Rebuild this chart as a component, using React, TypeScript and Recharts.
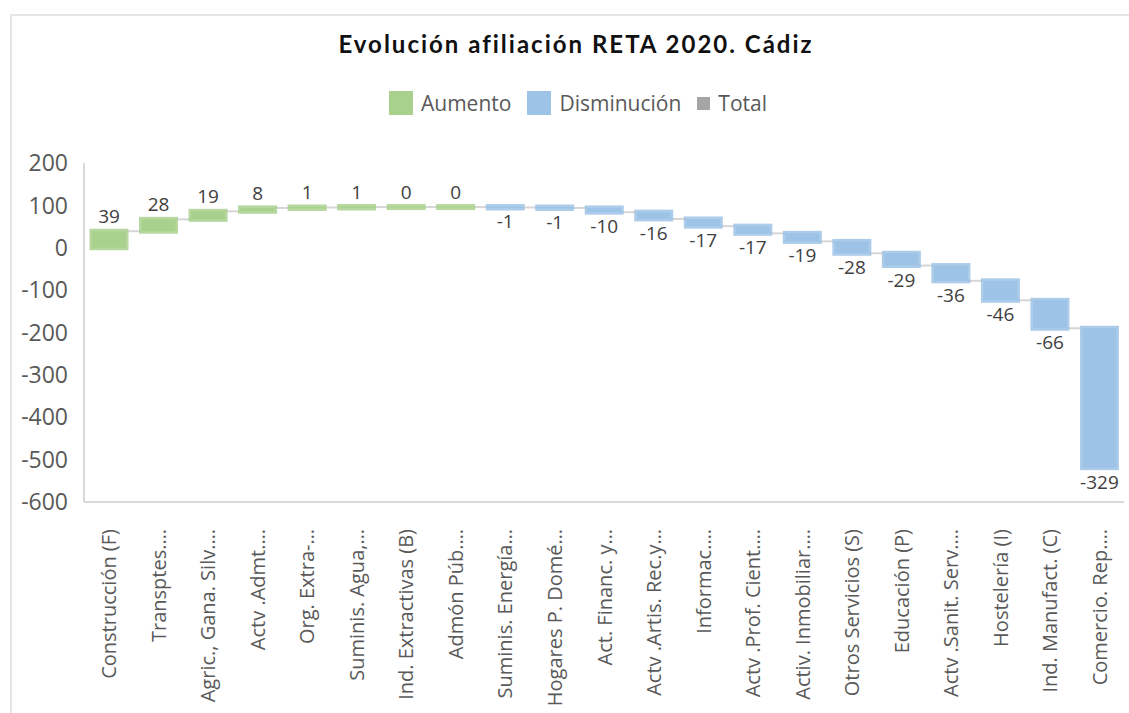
import React from 'react';
import { BarChart, Bar, XAxis, YAxis, LabelList, Cell } from 'recharts';

const categories = [
    'Construcción (F)',
    'Transptes.…',
    'Agric., Gana. Silv.…',
    'Actv .Admt.…',
    'Org. Extra-…',
    'Suminis. Agua,…',
    'Ind. Extractivas (B)',
    'Admón Púb.…',
    'Suminis.  Energía…',
    'Hogares P. Domé…',
    'Act. Financ. y…',
    'Actv .Artis. Rec.y…',
    'Informac.…',
    'Actv .Prof. Cient.…',
    'Activ. Inmobiliar.…',
    'Otros Servicios (S)',
    'Educación (P)',
    'Actv .Sanit. Serv.…',
    'Hostelería (I)',
    'Ind. Manufact.  (C)',
    'Comercio. Rep.…',
];

const deltas = [39, 28, 19, 8, 1, 1, 0, 0, -1, -1, -10, -16, -17, -17, -19, -28, -29, -36, -46, -66, -329];

const yTicks = [200, 100, 0, -100, -200, -300, -400, -500, -600];

const legendItems = [
    { name: 'Aumento', color: '#a9d18e', size: 24 },
    { name: 'Disminución', color: '#9dc3e6', size: 24 },
    { name: 'Total', color: '#a5a5a5', size: 13 },
];

const GREEN = '#a9d18e';
const BLUE = '#9dc3e6';
const FONT = '"Open Sans", sans-serif';

// running totals -> [low, high] ranges for the floating bars
let running = 0;
const rows = categories.map((name, i) => {
    const start = running;
    running += deltas[i];
    return {
        name,
        delta: deltas[i],
        start,
        end: running,
        range: [Math.min(start, running), Math.max(start, running)],
    };
});

const CHART_W = 1129;
const CHART_H = 713;
const Y_AXIS_W = 84;
const RIGHT = 5;
const BAR = 34;
const BAND = (CHART_W - Y_AXIS_W - RIGHT) / categories.length;

function WaterfallBar(props: any) {
    const { x, y, width, height, index } = props;
    let top = Math.min(y, y + height);
    let bottom = Math.max(y, y + height);
    const d = deltas[index];
    const color = d >= 0 ? GREEN : BLUE;
    const level = d >= 0 ? top : bottom;
    // zero changes still get a thin sliver, like the original
    if (bottom - top < 1) {
        top -= 0.5;
        bottom += 0.5;
    }
    const last = index === deltas.length - 1;
    return (
        <g>
            {!last && (
                <line
                    x1={x + width}
                    x2={x + width + (BAND - width)}
                    y1={level}
                    y2={level}
                    stroke="#d6d6d6"
                    strokeWidth={2}
                />
            )}
            <rect
                x={x}
                y={top}
                width={width}
                height={bottom - top}
                fill={color}
                stroke={color}
                strokeWidth={5}
                strokeOpacity={0.85}
            />
        </g>
    );
}

function ValueLabel(props: any) {
    const { x, y, width, height, index } = props;
    const top = Math.min(y, y + height);
    const bottom = Math.max(y, y + height);
    const d = deltas[index];
    const ty = d >= 0 ? top - 8 : bottom + 21;
    return (
        <text
            x={x + width / 2}
            y={ty}
            textAnchor="middle"
            fill="#404040"
            fontSize={19}
            fontFamily={FONT}
        >
            {d}
        </text>
    );
}

function CategoryTick(props: any) {
    const { x, y, payload } = props;
    const ty = y + 19;
    return (
        <text
            x={x}
            y={ty}
            transform={`rotate(-90, ${x}, ${ty})`}
            textAnchor="end"
            dominantBaseline="central"
            fill="#595959"
            fontSize={20}
            fontFamily={FONT}
        >
            {payload.value}
        </text>
    );
}

export default function App() {
    return (
        <div style={{ position: 'absolute', left: 0, top: 0, width: CHART_W, height: CHART_H, background: '#fff', overflow: 'hidden' }}>
            <div style={{
                position: 'absolute', left: 10, top: 14, width: 1130, height: 720,
                border: '2px solid #e6e6e6', boxSizing: 'border-box'
            }} />

            <div style={{
                position: 'absolute', left: 0, width: 1152, top: 29, textAlign: 'center',
                fontFamily: 'Lato, sans-serif', fontWeight: 'bold', fontSize: 24, letterSpacing: 2,
                color: '#111'
            }}>
                Evolución afiliación RETA 2020. Cádiz
            </div>

            <div style={{
                position: 'absolute', left: 0, width: 1156, top: 89, display: 'flex',
                justifyContent: 'center', alignItems: 'center', gap: 16,
                fontFamily: FONT, fontSize: 21, color: '#595959'
            }}>
                {legendItems.map((item) => (
                    <div key={item.name} style={{ display: 'flex', alignItems: 'center', gap: 8 }}>
                        <span style={{ display: 'inline-block', width: item.size, height: item.size, background: item.color }} />
                        <span>{item.name}</span>
                    </div>
                ))}
            </div>

            <div style={{ position: 'absolute', left: 0, top: 0 }}>
                <BarChart
                    width={CHART_W}
                    height={CHART_H}
                    data={rows}
                    margin={{ top: 163, right: RIGHT, bottom: 0, left: 0 }}
                >
                    <XAxis
                        dataKey="name"
                        interval={0}
                        height={211}
                        tickLine={false}
                        axisLine={{ stroke: '#d9d9d9', strokeWidth: 2 }}
                        tick={<CategoryTick />}
                    />
                    <YAxis
                        width={Y_AXIS_W}
                        domain={[-600, 200]}
                        ticks={yTicks}
                        tickLine={false}
                        axisLine={{ stroke: '#d9d9d9', strokeWidth: 2 }}
                        tickMargin={10}
                        tick={{ fill: '#595959', fontSize: 23, fontFamily: FONT }}
                    />
                    <Bar dataKey="range" barSize={BAR} shape={<WaterfallBar />} isAnimationActive={false}>
                        {rows.map((r) => (
                            <Cell key={r.name} fill={r.delta >= 0 ? GREEN : BLUE} />
                        ))}
                        <LabelList dataKey="delta" content={<ValueLabel />} />
                    </Bar>
                </BarChart>
            </div>
        </div>
    );
}
